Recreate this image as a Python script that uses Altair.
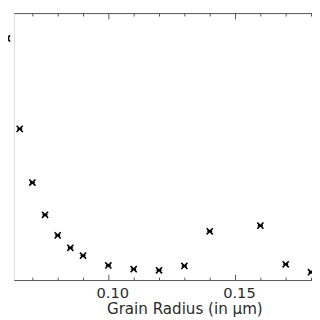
import altair as alt
import pandas as pd

# Grain radius (micron) and relative value (arbitrary units)
radius = [0.060, 0.065, 0.070, 0.075, 0.080, 0.085, 0.090, 0.100,
          0.110, 0.120, 0.130, 0.140, 0.160, 0.170, 0.180]
value = [0.892, 0.558, 0.360, 0.241, 0.165, 0.119, 0.090, 0.054,
         0.040, 0.036, 0.052, 0.180, 0.201, 0.058, 0.029]

tick_values = [0.07, 0.08, 0.09, 0.10, 0.11, 0.12, 0.13,
               0.14, 0.15, 0.16, 0.17, 0.18]
label_values = [0.10, 0.15]

df = pd.DataFrame({"r": radius, "v": value})

PADL = 6
W, H = 306, 274
xscale = alt.Scale(domain=[0.062692, 0.180385], nice=False, zero=False)
yscale = alt.Scale(domain=[0, 0.98561], nice=False, zero=True)
AX = "#555555"
TXT = "#2a2a2a"
major = {"condition": {"test": "round(datum.value*100) % 5 === 0", "value": 6}, "value": 3}

pts = alt.Chart(df).mark_point(
    shape="M-1,-1L1,1M-1,1L1,-1M-0.8,0L0.8,0",
    size=40, filled=False, stroke="black", strokeWidth=1.6, opacity=1
).encode(
    x=alt.X("r:Q", scale=xscale, axis=alt.Axis(
        orient="bottom", domain=False, ticks=False, tickSize=0, grid=False,
        values=label_values, format=".2f", labelFont="DejaVu Sans",
        labelFontSize=15, labelColor=TXT, labelPadding=18,
        labelBaseline="alphabetic", labelOffset=4, labelFlush=False,
        title="Grain Radius (in μm)", titleFont="DejaVu Sans",
        titleFontSize=15.5, titleFontWeight="normal", titleColor=TXT,
        titleX=181 - PADL, titleY=34, titleAlign="center",
        titleBaseline="alphabetic", titleAnchor="start")),
    y=alt.Y("v:Q", scale=yscale, axis=None),
)

bottom_ticks = alt.Chart(df).mark_point(opacity=0).encode(
    x=alt.X("r:Q", scale=xscale, axis=alt.Axis(
        orient="top", offset=-H, domain=True, domainColor=AX, domainWidth=1,
        ticks=True, tickColor=AX, tickWidth=1, tickSize=major,
        labels=False, grid=False, title=None, values=tick_values)),
)

top_ticks = alt.Chart(df).mark_point(opacity=0).encode(
    x=alt.X("r:Q", scale=xscale, axis=alt.Axis(
        orient="bottom", offset=-H, domain=True, domainColor=AX, domainWidth=1,
        ticks=True, tickColor=AX, tickWidth=1, tickSize=major,
        labels=False, grid=False, title=None, values=tick_values)),
)

chart = alt.layer(bottom_ticks, top_ticks, pts).resolve_scale(
    x="shared"
).resolve_axis(x="independent").properties(
    width=W, height=H,
    autosize=alt.AutoSizeParams(type="none"),
    padding={"left": PADL, "top": 1, "right": 0, "bottom": 45},
).configure_view(stroke="transparent", strokeWidth=0).configure_axisY(
    domain=False, ticks=False, labels=False, grid=False
).configure_axisX(grid=False).configure(background="white")

chart.save("out.html", embed_options={"renderer": "svg", "actions": False})
